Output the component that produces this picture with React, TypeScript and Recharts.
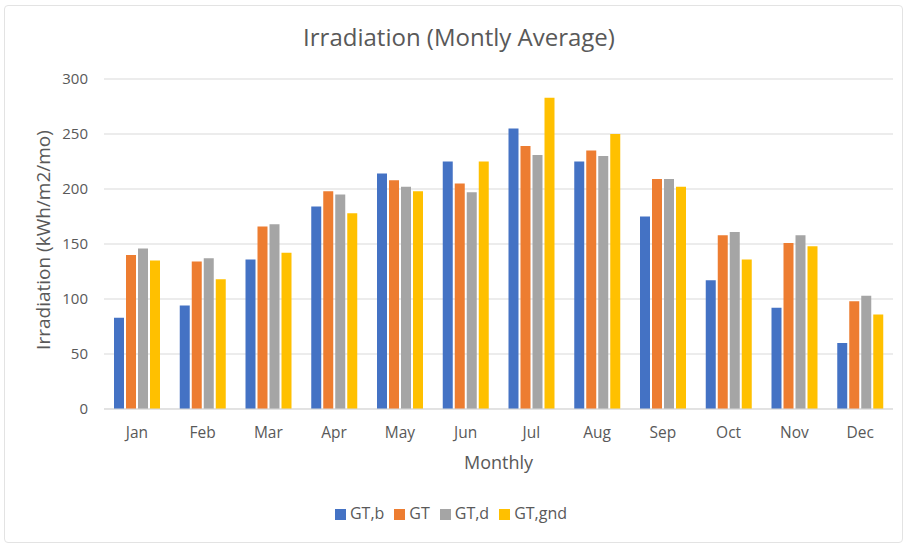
import React from 'react';
import { BarChart, Bar, XAxis, YAxis, CartesianGrid, Legend } from 'recharts';

const months = ['Jan', 'Feb', 'Mar', 'Apr', 'May', 'Jun', 'Jul', 'Aug', 'Sep', 'Oct', 'Nov', 'Dec'];
const gtB = [83, 94, 136, 184, 214, 225, 255, 225, 175, 117, 92, 60];
const gt = [140, 134, 166, 198, 208, 205, 239, 235, 209, 158, 151, 98];
const gtD = [146, 137, 168, 195, 202, 197, 231, 230, 209, 161, 158, 103];
const gtGnd = [135, 118, 142, 178, 198, 225, 283, 250, 202, 136, 148, 86];
const yTicks = [0, 50, 100, 150, 200, 250, 300];
const seriesNames = ['GT,b', 'GT', 'GT,d', 'GT,gnd'];

const data = months.map((m, i) => ({
  month: m,
  'GT,b': gtB[i],
  GT: gt[i],
  'GT,d': gtD[i],
  'GT,gnd': gtGnd[i],
}));

const FONT = '"Open Sans", "Noto Sans", sans-serif';
const TEXT = '#595959';

export default function App() {
  return (
    <div style={{ position: 'absolute', left: 0, top: 0, width: 905, height: 544, background: '#fff', fontFamily: FONT, overflow: 'hidden' }}>
      <div
        style={{
          position: 'absolute',
          left: 4,
          top: 5,
          width: 899,
          height: 538,
          border: '1.5px solid #e3e3e3',
          borderRadius: 4,
          boxSizing: 'border-box',
        }}
      />
      <div
        style={{
          position: 'absolute',
          left: 0,
          top: 21,
          width: 918,
          textAlign: 'center',
          fontSize: 24,
          color: TEXT,
          fontFamily: FONT,
          lineHeight: '32px',
        }}
      >
        Irradiation (Montly Average)
      </div>
      <BarChart
        width={905}
        height={544}
        data={data}
        margin={{ top: 79, right: 12, left: 0, bottom: 73 }}
        barCategoryGap={10}
        barGap={2}
        style={{ position: 'absolute', left: 0, top: 0 }}
      >
        <CartesianGrid vertical={false} stroke="#d9d9d9" strokeWidth={1} />
        <XAxis
          dataKey="month"
          height={62}
          axisLine={{ stroke: '#d9d9d9' }}
          tickLine={false}
          tickSize={6}
          tickMargin={12}
          tick={{ fill: TEXT, fontSize: 15.5, fontFamily: FONT }}
          label={{ value: 'Monthly', position: 'insideBottom', offset: 2, fill: TEXT, fontSize: 18, fontFamily: FONT }}
        />
        <YAxis
          width={104}
          domain={[0, 300]}
          ticks={yTicks}
          axisLine={false}
          tickLine={false}
          tickSize={6}
          tickMargin={10}
          tick={{ fill: TEXT, fontSize: 15, fontFamily: FONT }}
          label={{ value: 'Irradiation (kWh/m2/mo)', angle: -90, position: 'center', dx: -9, dy: -4, fill: TEXT, fontSize: 19, fontFamily: FONT }}
        />
        <Legend
          layout="horizontal"
          verticalAlign="middle"
          align="center"
          iconType="square"
          iconSize={11}
          itemSorter={(item: any) => seriesNames.indexOf(item.value)}
          wrapperStyle={{ top: 502, left: 0, width: 912, fontSize: 16, fontFamily: FONT }}
          formatter={(v: string) => <span style={{ color: TEXT }}>{v}</span>}
        />
        <Bar dataKey="GT,b" fill="#4472C4" isAnimationActive={false} />
        <Bar dataKey="GT" fill="#ED7D31" isAnimationActive={false} />
        <Bar dataKey="GT,d" fill="#A5A5A5" isAnimationActive={false} />
        <Bar dataKey="GT,gnd" fill="#FFC000" isAnimationActive={false} />
      </BarChart>
    </div>
  );
}
